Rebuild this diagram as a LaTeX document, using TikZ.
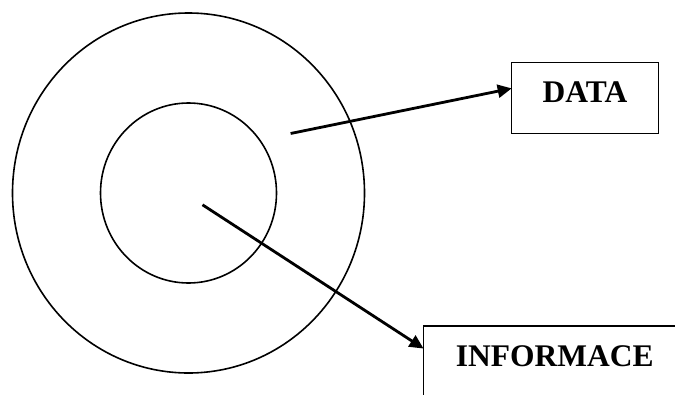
\documentclass[tikz,border=0pt]{standalone}
\usepackage{fontspec}
\setmainfont{Liberation Serif}
\usetikzlibrary{arrows.meta,calc}
\begin{document}
\begin{tikzpicture}[x=1pt,y=-1pt]
		\tikzset{box/.style = {draw, line width=1.6pt, inner sep=0pt, anchor=north west,
				font=\bfseries\fontsize{31.5pt}{36pt}\selectfont}}
		\tikzset{ring/.style = {line width=1.6pt}}
		\tikzset{edge/.style = {line width=2.8pt, -{Triangle[length=14pt,width=13pt]}, shorten >=-1pt}}
		
		\clip (0,0) rectangle (675,394);
		
		\coordinate (core) at (188.5,193);
		\draw[ring] (core) ellipse [x radius=176pt, y radius=180pt];
		\draw[ring] (core) ellipse [x radius=88pt, y radius=90pt];
		
		\node[box, minimum width=147pt, text height=39.6pt, text depth=31.4pt] (data) at (510.7,61.7) {DATA};
		\node[box, minimum width=262.6pt, text height=40.5pt, text depth=60pt] (info) at (422.7,325) {INFORMACE};
		
		\coordinate (d) at (290.6,133.5);
		\coordinate (i) at (202.5,204.8);
		
		\draw[edge] (d) to ($(data.north west)!0.37!(data.south west)$);
		\draw[edge] (i) to ([yshift=-23pt]info.north west);
		\end{tikzpicture}
\end{document}
